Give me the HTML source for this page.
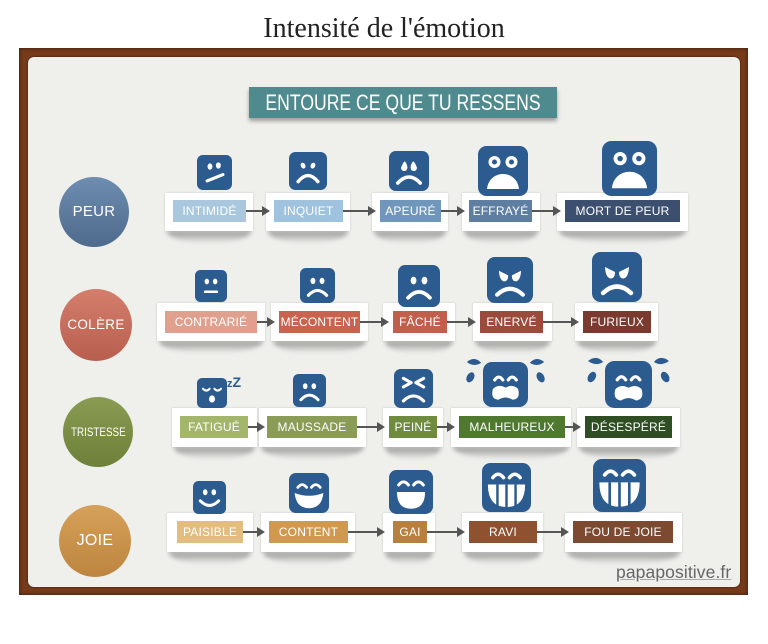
<!DOCTYPE html>
<html><head><meta charset="utf-8">
<style>
*{box-sizing:border-box}
body{margin:0;width:768px;height:644px;background:#fff;position:relative;overflow:hidden;font-family:"Liberation Sans",sans-serif}
.title{position:absolute;left:0;top:11px;width:768px;text-align:center;font-family:"Liberation Serif",serif;font-size:28px;color:#222;line-height:36px}
.frame{position:absolute;left:19px;top:48px;width:729px;height:547px;background:#773a1a;box-shadow:inset 0 0 4px rgba(0,0,0,.55)}
.paper{position:absolute;left:28px;top:57px;width:712px;height:530px;background:#efefec;border-radius:6px;box-shadow:0 0 2px rgba(0,0,0,.6)}
.layer{position:absolute;left:0;top:0;width:768px;height:644px;z-index:0}
.hdr{position:absolute;left:249px;top:87px;width:308px;height:31px;background:#4f8a8e;box-shadow:0 3px 4px rgba(0,0,0,.35);color:#fff;line-height:31px;font-size:22px;white-space:nowrap}
.hdr span{position:absolute;left:50%;top:0;transform:translateX(-50%) scaleX(.8)}
.circ{position:absolute;border-radius:50%;color:#fff;text-align:center;font-size:14px;letter-spacing:.3px;white-space:nowrap}
.circ span{display:inline-block}
.card{position:absolute;background:#fff;box-shadow:0 0 2px rgba(0,0,0,.18)}
.card::before{content:"";position:absolute;left:2px;right:2px;top:100%;height:12px;z-index:-1;background:linear-gradient(rgba(0,0,0,.38),rgba(0,0,0,0));filter:blur(2px);border-radius:0 0 45% 45%/0 0 100% 100%}
.lab{position:absolute;color:#fff;font-size:12px;text-align:center;line-height:22px;height:22px;letter-spacing:.2px;white-space:nowrap}
.sig{position:absolute;left:616px;top:562px;font-size:17.5px;color:#666;text-decoration:underline;text-decoration-color:#aaa;letter-spacing:.1px}
svg{position:absolute;left:0;top:0}
</style></head><body>
<div class="title">Intensité de l'émotion</div>
<div class="frame"></div>
<div class="paper"></div>
<div class="layer">
<div class="hdr"><span>ENTOURE CE QUE TU RESSENS</span></div>

<div class="circ" style="left:59px;top:177px;width:70px;height:70px;line-height:70px;background:linear-gradient(#6e8db0,#4e6a8c);font-size:15px">PEUR</div>
<div class="circ" style="left:60px;top:289px;width:72px;height:72px;line-height:72px;background:linear-gradient(#d57e6c,#b85e4e);font-size:13.5px">COLÈRE</div>
<div class="circ" style="left:63px;top:397px;width:70px;height:70px;line-height:70px;background:linear-gradient(#8a9c52,#6e8039);font-size:12px;letter-spacing:0"><span style="transform:scaleX(.82)">TRISTESSE</span></div>
<div class="circ" style="left:59px;top:505px;width:72px;height:72px;line-height:72px;background:linear-gradient(#d6a15a,#bd853f);font-size:16px">JOIE</div>

<!-- Row 1 -->
<div class="card" style="left:165px;top:193px;width:88px;height:38px"></div>
<div class="card" style="left:266px;top:193px;width:84px;height:38px"></div>
<div class="card" style="left:372px;top:193px;width:76px;height:38px"></div>
<div class="card" style="left:462px;top:193px;width:78px;height:38px"></div>
<div class="card" style="left:557px;top:193px;width:131px;height:38px"></div>
<div class="lab" style="left:173px;top:200px;width:73px;background:#a9c8de">INTIMIDÉ</div>
<div class="lab" style="left:274px;top:200px;width:69px;background:#9fc2de">INQUIET</div>
<div class="lab" style="left:380px;top:200px;width:61px;background:#7096bb">APEURÉ</div>
<div class="lab" style="left:469px;top:200px;width:63px;background:#5e7ea2">EFFRAYÉ</div>
<div class="lab" style="left:565px;top:200px;width:115px;background:#3d4f6f">MORT DE PEUR</div>

<!-- Row 2 -->
<div class="card" style="left:157px;top:303px;width:108px;height:38px"></div>
<div class="card" style="left:271px;top:303px;width:97px;height:38px"></div>
<div class="card" style="left:383px;top:303px;width:72px;height:38px"></div>
<div class="card" style="left:473px;top:303px;width:79px;height:38px"></div>
<div class="card" style="left:575px;top:303px;width:83px;height:38px"></div>
<div class="lab" style="left:165px;top:311px;width:92px;background:#e0a08e">CONTRARIÉ</div>
<div class="lab" style="left:279px;top:311px;width:81px;background:#c8634f">MÉCONTENT</div>
<div class="lab" style="left:393px;top:311px;width:54px;background:#bf5f4c">FÂCHÉ</div>
<div class="lab" style="left:480px;top:311px;width:63px;background:#9b4b3b">ENERVÉ</div>
<div class="lab" style="left:583px;top:311px;width:68px;background:#7a3a2f">FURIEUX</div>

<!-- Row 3 -->
<div class="card" style="left:172px;top:408px;width:85px;height:39px"></div>
<div class="card" style="left:259px;top:408px;width:107px;height:39px"></div>
<div class="card" style="left:383px;top:408px;width:60px;height:39px"></div>
<div class="card" style="left:451px;top:408px;width:120px;height:39px"></div>
<div class="card" style="left:577px;top:408px;width:103px;height:39px"></div>
<div class="lab" style="left:180px;top:416px;width:68px;background:#a4b66c">FATIGUÉ</div>
<div class="lab" style="left:267px;top:416px;width:90px;background:#8a9c55">MAUSSADE</div>
<div class="lab" style="left:389px;top:416px;width:48px;background:#6e8b3e">PEINÉ</div>
<div class="lab" style="left:459px;top:416px;width:106px;background:#4e792e">MALHEUREUX</div>
<div class="lab" style="left:585px;top:416px;width:87px;background:#2f4e23">DÉSESPÉRÉ</div>

<!-- Row 4 -->
<div class="card" style="left:167px;top:513px;width:86px;height:39px"></div>
<div class="card" style="left:261px;top:513px;width:94px;height:39px"></div>
<div class="card" style="left:383px;top:513px;width:52px;height:39px"></div>
<div class="card" style="left:462px;top:513px;width:81px;height:39px"></div>
<div class="card" style="left:565px;top:513px;width:117px;height:39px"></div>
<div class="lab" style="left:177px;top:521px;width:66px;background:#e3bd80">PAISIBLE</div>
<div class="lab" style="left:269px;top:521px;width:79px;background:#cf9a50">CONTENT</div>
<div class="lab" style="left:393px;top:521px;width:34px;background:#b8803f">GAI</div>
<div class="lab" style="left:469px;top:521px;width:68px;background:#8e5231">RAVI</div>
<div class="lab" style="left:573px;top:521px;width:100px;background:#7b4a31">FOU DE JOIE</div>

<div class="sig">papapositive.fr</div>

<svg width="768" height="644" viewBox="0 0 768 644">
<defs>
<g id="sq"><rect width="100" height="100" rx="17" fill="#2c5b8f"/></g>
<g id="f1"><use href="#sq"/><ellipse cx="37" cy="33" rx="7" ry="9" fill="#fff"/><ellipse cx="61" cy="30" rx="7" ry="9" fill="#fff"/><line x1="29" y1="74" x2="74" y2="56" stroke="#fff" stroke-width="9" stroke-linecap="round"/></g>
<g id="f2"><use href="#sq"/><ellipse cx="37" cy="36" rx="6" ry="8" fill="#fff" transform="rotate(-25 37 36)"/><ellipse cx="63" cy="36" rx="6" ry="8" fill="#fff" transform="rotate(25 63 36)"/><path d="M24 78 Q50 46 76 78" stroke="#fff" stroke-width="9" fill="none" stroke-linecap="round"/></g>
<g id="f3"><use href="#sq"/><path d="M30 42 Q36 26 40 26 Q46 34 46 42 A8 8 0 0 1 30 42Z" fill="#fff"/><path d="M70 42 Q64 26 60 26 Q54 34 54 42 A8 8 0 0 0 70 42Z" fill="#fff"/><path d="M22 80 Q50 50 78 80" stroke="#fff" stroke-width="9" fill="none" stroke-linecap="round"/></g>
<g id="f4"><use href="#sq"/><circle cx="33" cy="32" r="12" fill="#fff"/><circle cx="33" cy="32" r="5" fill="#2c5b8f"/><circle cx="67" cy="32" r="12" fill="#fff"/><circle cx="67" cy="32" r="5" fill="#2c5b8f"/><path d="M18 86 C22 46 78 46 82 86 Z" fill="#fff"/></g>
<g id="f6"><use href="#sq"/><ellipse cx="37" cy="36" rx="7" ry="9" fill="#fff"/><ellipse cx="63" cy="36" rx="7" ry="9" fill="#fff"/><rect x="28" y="64" width="44" height="8" rx="3" fill="#fff"/></g>
<g id="f7"><use href="#sq"/><ellipse cx="37" cy="37" rx="7" ry="9" fill="#fff"/><ellipse cx="63" cy="37" rx="7" ry="9" fill="#fff"/><path d="M24 78 Q50 50 76 78" stroke="#fff" stroke-width="9" fill="none" stroke-linecap="round"/></g>
<g id="f9"><use href="#sq"/><path d="M26 30 L46 40 Q46 53 37 53 Q27 51 26 30Z" fill="#fff"/><path d="M74 30 L54 40 Q54 53 63 53 Q73 51 74 30Z" fill="#fff"/><path d="M22 82 Q50 56 78 82" stroke="#fff" stroke-width="9" fill="none" stroke-linecap="round"/></g>
<g id="f11"><use href="#sq"/><path d="M20 36 Q31 48 42 36" stroke="#fff" stroke-width="7" fill="none" stroke-linecap="round"/><path d="M58 36 Q69 48 80 36" stroke="#fff" stroke-width="7" fill="none" stroke-linecap="round"/><ellipse cx="50" cy="70" rx="10" ry="12" fill="#fff"/></g>
<g id="f13"><use href="#sq"/><path d="M24 24 L44 35 L24 46" stroke="#fff" stroke-width="8" fill="none" stroke-linecap="round" stroke-linejoin="round"/><path d="M76 24 L56 35 L76 46" stroke="#fff" stroke-width="8" fill="none" stroke-linecap="round" stroke-linejoin="round"/><path d="M24 82 Q50 56 76 82" stroke="#fff" stroke-width="8" fill="none" stroke-linecap="round"/></g>
<g id="f14"><rect width="100" height="100" rx="20" fill="#2c5b8f"/><path d="M26 40 Q35 27 44 40" stroke="#fff" stroke-width="7" fill="none" stroke-linecap="round"/><path d="M56 40 Q65 27 74 40" stroke="#fff" stroke-width="7" fill="none" stroke-linecap="round"/><path d="M22 60 Q34 48 50 57 Q66 48 78 60 Q84 82 66 84 Q50 74 34 84 Q16 82 22 60Z" fill="#fff"/>
<path d="M-36 0 Q-18 -14 -4 2 Q-20 12 -36 0Z" fill="#2c5b8f"/><path d="M136 0 Q118 -14 104 2 Q120 12 136 0Z" fill="#2c5b8f"/>
<ellipse cx="-28" cy="34" rx="8" ry="12" fill="#2c5b8f" transform="rotate(30 -28 34)"/><ellipse cx="128" cy="34" rx="8" ry="12" fill="#2c5b8f" transform="rotate(-30 128 34)"/></g>
<g id="f16"><use href="#sq"/><ellipse cx="37" cy="34" rx="7" ry="9" fill="#fff"/><ellipse cx="63" cy="34" rx="7" ry="9" fill="#fff"/><path d="M22 60 Q50 88 78 60" stroke="#fff" stroke-width="9" fill="none" stroke-linecap="round"/></g>
<g id="f17"><use href="#sq"/><path d="M22 36 Q33 22 44 36" stroke="#fff" stroke-width="7" fill="none" stroke-linecap="round"/><path d="M56 36 Q67 22 78 36" stroke="#fff" stroke-width="7" fill="none" stroke-linecap="round"/><path d="M14 50 Q50 64 86 50 Q82 88 50 88 Q18 88 14 50Z" fill="#fff"/></g>
<g id="f18"><use href="#sq"/><path d="M22 34 Q33 20 44 34" stroke="#fff" stroke-width="7" fill="none" stroke-linecap="round"/><path d="M56 34 Q67 20 78 34" stroke="#fff" stroke-width="7" fill="none" stroke-linecap="round"/><path d="M18 50 L82 50 Q82 88 50 88 Q18 88 18 50Z" fill="#fff"/></g>
<g id="f19"><use href="#sq"/><path d="M22 30 Q33 16 44 30" stroke="#fff" stroke-width="7" fill="none" stroke-linecap="round"/><path d="M56 30 Q67 16 78 30" stroke="#fff" stroke-width="7" fill="none" stroke-linecap="round"/><path d="M12 44 L88 44 Q88 90 50 90 Q12 90 12 44Z" fill="#fff"/><rect x="29" y="44" width="5" height="46" fill="#2c5b8f"/><rect x="47.5" y="44" width="5" height="48" fill="#2c5b8f"/><rect x="66" y="44" width="5" height="46" fill="#2c5b8f"/></g>
</defs>

<!-- icons row 1 -->
<use href="#f1" transform="translate(197,155) scale(.35)"/>
<use href="#f2" transform="translate(289,152) scale(.38)"/>
<use href="#f3" transform="translate(389,151) scale(.40)"/>
<use href="#f4" transform="translate(478,146) scale(.50)"/>
<use href="#f4" transform="translate(602,141) scale(.55)"/>
<!-- row 2 -->
<use href="#f6" transform="translate(195,270) scale(.32)"/>
<use href="#f7" transform="translate(300,268) scale(.35)"/>
<use href="#f7" transform="translate(398,265) scale(.42)"/>
<use href="#f9" transform="translate(487,257) scale(.46)"/>
<use href="#f9" transform="translate(592,252) scale(.50)"/>
<!-- row 3 -->
<use href="#f11" transform="translate(197,378) scale(.30)"/>
<text x="227" y="387" font-family="Liberation Sans, sans-serif" font-weight="bold" font-size="11" fill="#2c5b8f">z<tspan font-size="14">Z</tspan></text>
<use href="#f7" transform="translate(293,374) scale(.33)"/>
<use href="#f13" transform="translate(394,369) scale(.39)"/>
<use href="#f14" transform="translate(483,362) scale(.45)"/>
<use href="#f14" transform="translate(605,361) scale(.47)"/>
<!-- row 4 -->
<use href="#f16" transform="translate(193,481) scale(.33)"/>
<use href="#f17" transform="translate(289,473) scale(.40)"/>
<use href="#f18" transform="translate(389,470) scale(.44)"/>
<use href="#f19" transform="translate(482,463) scale(.49)"/>
<use href="#f19" transform="translate(593,459) scale(.53)"/>

<!-- arrows -->
<g stroke="#555" stroke-width="2" fill="none">
<line x1="246" y1="211" x2="264" y2="211"/><line x1="343" y1="211" x2="370" y2="211"/><line x1="441" y1="211" x2="459" y2="211"/><line x1="532" y1="211" x2="555" y2="211"/>
<line x1="257" y1="322" x2="269" y2="322"/><line x1="360" y1="322" x2="383" y2="322"/><line x1="447" y1="322" x2="470" y2="322"/><line x1="543" y1="322" x2="573" y2="322"/>
<line x1="248" y1="427" x2="259" y2="427"/><line x1="357" y1="427" x2="379" y2="427"/><line x1="437" y1="427" x2="449" y2="427"/><line x1="565" y1="427" x2="575" y2="427"/>
<line x1="243" y1="532" x2="259" y2="532"/><line x1="348" y1="532" x2="379" y2="532"/><line x1="427" y1="532" x2="459" y2="532"/><line x1="537" y1="532" x2="563" y2="532"/>
</g>
<g fill="#555">
<polygon points="262,206 270,211 262,216"/><polygon points="368,206 376,211 368,216"/><polygon points="457,206 465,211 457,216"/><polygon points="553,206 561,211 553,216"/>
<polygon points="267,317 275,322 267,327"/><polygon points="381,317 389,322 381,327"/><polygon points="468,317 476,322 468,327"/><polygon points="571,317 579,322 571,327"/>
<polygon points="257,422 265,427 257,432"/><polygon points="377,422 385,427 377,432"/><polygon points="447,422 455,427 447,432"/><polygon points="573,422 581,427 573,432"/>
<polygon points="257,527 265,532 257,537"/><polygon points="377,527 385,532 377,537"/><polygon points="457,527 465,532 457,537"/><polygon points="561,527 569,532 561,537"/>
</g>
</svg>
</div>
</body></html>
